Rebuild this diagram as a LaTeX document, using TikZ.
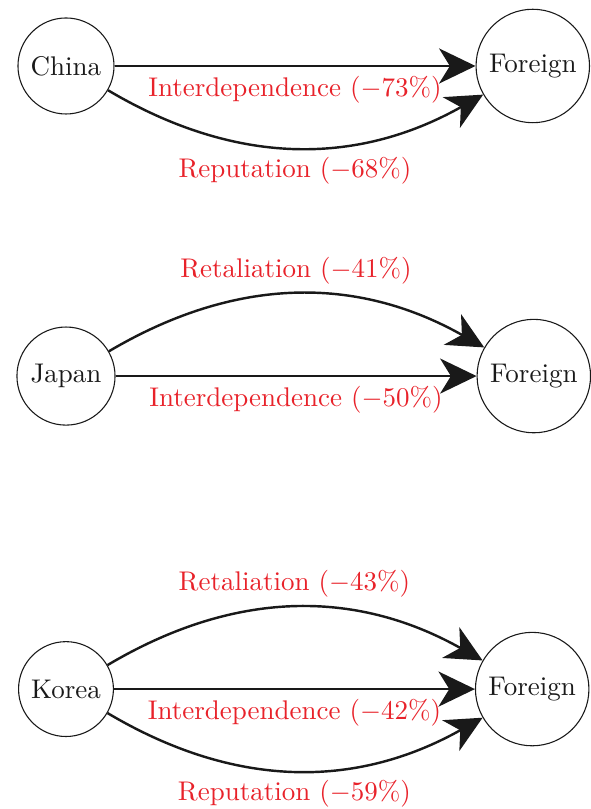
\documentclass[tikz,border=0pt]{standalone}
\usetikzlibrary{positioning,arrows.meta}
\definecolor{effectred}{RGB}{232,34,42}
\begin{document}
\begin{tikzpicture}[
        country/.style={
            circle, thin, draw = black!100, color = black!90
        },
        channel/.style={
            -{Stealth[length=13.5pt,width=13pt,inset=4pt]}, line width = 0.9pt, draw = black!90
        },
        effect/.style={
            color = effectred
        },
    ]
        \useasboundingbox (-24.44pt,24.44pt) rectangle (194.4pt,-275.2pt);

        \node (china) [country] {China};
        \node (foreignChina) [country,right=133.7pt of china] {Foreign};
        \path (china) edge[channel] node[effect,pos=0.5,below] {Interdependence ($-73\%$)} (foreignChina);
        \path (china) edge[channel,bend right=30] node[effect,pos=0.5,below] {Reputation ($-68\%$)} (foreignChina);

        \node (japan) [country,below=78.5pt of china] {Japan};
        \node (foreignJapan) [country,right=133.7pt of japan] {Foreign};
        \path (japan) edge[channel,bend left=30] node[effect,pos=0.5,above] {Retaliation ($-41\%$)} (foreignJapan);
        \path (japan) edge[channel] node[effect,pos=0.5,below] {Interdependence ($-50\%$)} (foreignJapan);

        \node (korea) [country,below=79.8pt of japan] {Korea};
        \node (foreignKorea) [country,right=133.7pt of korea] {Foreign};
        \path (korea) edge[channel,bend left=30] node[effect,pos=0.5,above] {Retaliation ($-43\%$)} (foreignKorea);
        \path (korea) edge[channel] node[effect,pos=0.5,below] {Interdependence ($-42\%$)} (foreignKorea);
        \path (korea) edge[channel,bend right=30] node[effect,pos=0.5,below] {Reputation ($-59\%$)} (foreignKorea);

    \end{tikzpicture}
\end{document}
